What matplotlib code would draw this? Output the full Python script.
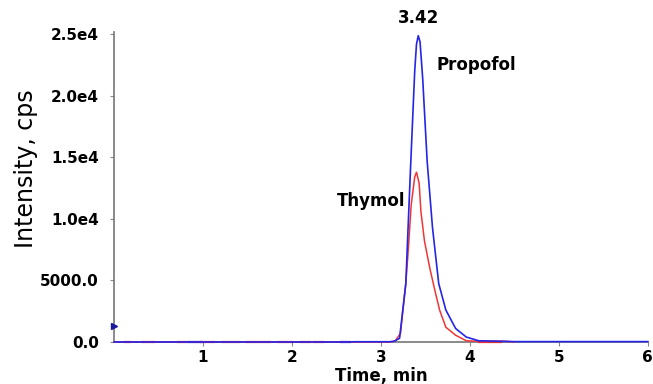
import matplotlib
matplotlib.use("Agg")
import matplotlib.pyplot as plt

plt.rcParams['font.family'] = ['DejaVu Sans']

# Propofol (blue) trace
blue_t = [0.0, 2.65, 2.70, 3.10, 3.15, 3.21, 3.28, 3.33, 3.38, 3.40, 3.42, 3.44, 3.47, 3.52, 3.58,
          3.65, 3.73, 3.84, 3.96, 4.10, 4.50, 6.0]
blue_y = [0, 0, 20, 20, 60, 300, 4750, 13600, 22000, 24200, 24900, 24400, 21400, 14700, 9300,
          4750, 2600, 1100, 400, 100, 30, 30]

# Thymol (red) trace
red_t = [0.0, 3.10, 3.16, 3.22, 3.28, 3.31, 3.34, 3.38, 3.40, 3.43, 3.45, 3.49, 3.55,
         3.60, 3.66, 3.73, 3.84, 3.96, 4.10, 4.40, 4.50]
red_y = [0, 0, 80, 700, 4750, 7700, 11100, 13400, 13800, 12900, 10600, 8200, 6000,
         4400, 2600, 1200, 550, 100, 60, 60, 0]

# baseline noise dashes (red / blue) before the peak
red_noise = [(0.12, 0.18), (0.33, 0.45), (0.72, 0.80), (0.98, 1.12), (1.22, 1.28),
             (1.32, 1.40), (1.50, 1.75), (1.85, 2.00), (2.10, 2.20), (2.25, 2.35),
             (4.10, 4.35)]
blue_noise = [(0.83, 0.98), (2.55, 2.65)]

x_ticks = [1, 2, 3, 4, 5, 6]
y_ticks = [0, 5000, 10000, 15000, 20000, 25000]
y_tick_labels = ['0.0', '5000.0', '1.0e4', '1.5e4', '2.0e4', '2.5e4']

peak_label = '3.42'
peak_t = 3.42
peak_val = 24900

fig = plt.figure(figsize=(6.53, 3.84), dpi=100)
ax = fig.add_axes([0.1746, 0.1094, 0.8174, 0.8073])

for a, b in red_noise:
    ax.plot([a, b], [30, 30], color='#e03030', lw=1.6, zorder=3, clip_on=False)
for a, b in blue_noise:
    ax.plot([a, b], [30, 30], color='#2020d0', lw=1.6, zorder=3, clip_on=False)

ax.plot(red_t, red_y, color='#f03535', lw=1.1, zorder=4, clip_on=False)
ax.plot(blue_t, blue_y, color='#2525e8', lw=1.2, zorder=5, clip_on=False)

ax.plot([0], [1300], marker='>', color='#1a1a9a', markersize=4, clip_on=False, zorder=6)

ax.set_xlim(0, 6)
ax.set_ylim(0, 25200)
ax.set_xticks(x_ticks)
ax.set_xticklabels([str(v) for v in x_ticks], fontsize=11, fontweight='bold')
ax.set_yticks(y_ticks)
ax.set_yticklabels(y_tick_labels, fontsize=11, fontweight='bold')

for s in ['top', 'right']:
    ax.spines[s].set_visible(False)
for s in ['left', 'bottom']:
    ax.spines[s].set_color('#777777')
    ax.spines[s].set_linewidth(1.2)
ax.tick_params(axis='both', direction='out', length=3, color='#888888', width=0.8)
ax.tick_params(axis='y', pad=8)
ax.tick_params(axis='x', pad=3)

ax.set_ylabel('Intensity, cps', fontsize=17)
ax.yaxis.set_label_coords(-0.142, 0.56)
ax.set_xlabel('Time, min', fontsize=12, fontweight='bold', labelpad=1)

ax.text(peak_t, peak_val + 700, peak_label, ha='center', va='bottom', fontsize=12,
        fontweight='bold', clip_on=False)
ax.text(3.63, 22500, 'Propofol', ha='left', va='center', fontsize=12, fontweight='bold')
ax.text(3.28, 11450, 'Thymol', ha='right', va='center', fontsize=12, fontweight='bold')

fig.savefig('out.png', dpi=100)
